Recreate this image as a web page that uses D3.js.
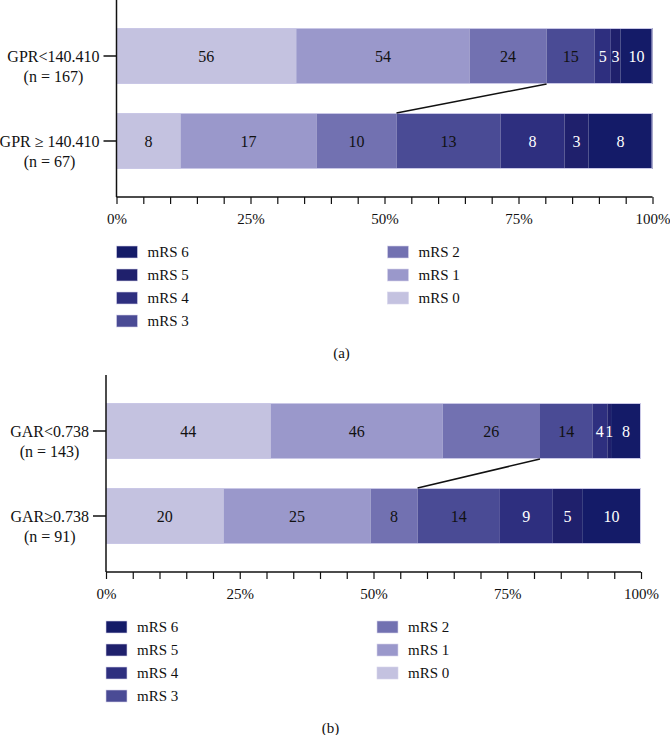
<!DOCTYPE html>
<html>
<head>
<meta charset="utf-8">
<script src="https://cdn.jsdelivr.net/npm/d3@7"></script>
<style>
  html, body { margin: 0; padding: 0; background: #fff; }
  svg { display: block; }
  text { font-family: "Liberation Serif", "DejaVu Serif", serif; fill: #111; }
</style>
</head>
<body>
<svg id="chart" width="670" height="735"></svg>
<script>
// ---- data ----
const stages = ["mRS 0", "mRS 1", "mRS 2", "mRS 3", "mRS 4", "mRS 5", "mRS 6"];
const stageColors = ["#c4c2e0", "#9a98cb", "#7271b1", "#4a4b95", "#2e2f7f", "#1f206c", "#141b68"];
const stageTextColors = ["#111", "#111", "#111", "#111", "#fff", "#fff", "#fff"];

const gprCategories = ["GPR<140.410", "GPR \u2265 140.410"];
const gprN = ["(n = 167)", "(n = 67)"];
const gprCounts = [
  [56, 54, 24, 15, 5, 3, 10],
  [8, 17, 10, 13, 8, 3, 8]
];

const garCategories = ["GAR<0.738", "GAR\u22650.738"];
const garN = ["(n = 143)", "(n = 91)"];
const garCounts = [
  [44, 46, 26, 14, 4, 1, 8],
  [20, 25, 8, 14, 9, 5, 10]
];

const majorTicks = [0, 0.25, 0.5, 0.75, 1];
const tickLabels = ["0%", "25%", "50%", "75%", "100%"];
const legendCol1 = ["mRS 6", "mRS 5", "mRS 4", "mRS 3"];
const legendCol2 = ["mRS 2", "mRS 1", "mRS 0"];

const svg = d3.select("#chart");

function panel(opts) {
  const { dx, dy, left, right, cats, ns, counts, caption } = opts;
  const g = svg.append("g").attr("transform", `translate(${dx},${dy})`);
  const axisY = 197;
  const x = d3.scaleLinear().domain([0, 1]).range([left, right]);
  const y = d3.scalePoint().domain(cats).range([56, 141]);
  const barH = 56;
  const color = d3.scaleOrdinal().domain(stages).range(stageColors);

  const rows = counts.map((c, i) => {
    const total = d3.sum(c);
    let cum = 0;
    return c.map((v, j) => {
      const seg = { cat: cats[i], stage: stages[j], idx: j, v, x0: cum / total, x1: (cum + v) / total };
      cum += v;
      return seg;
    });
  });

  rows.forEach(row => {
    const rg = g.append("g");
    rg.selectAll("rect").data(row).join("rect")
      .attr("x", d => x(d.x0))
      .attr("y", d => y(d.cat) - barH / 2)
      .attr("width", d => x(d.x1) - x(d.x0))
      .attr("height", barH)
      .attr("fill", d => color(d.stage));
    rg.append("rect")
      .attr("x", x(0) + 0.5).attr("y", y(row[0].cat) - barH / 2 + 0.5)
      .attr("width", x(1) - x(0) - 1).attr("height", barH - 1)
      .attr("fill", "none").attr("stroke", "#c9c7e6").attr("stroke-width", 1);
    rg.selectAll("text").data(row).join("text")
      .attr("x", d => (x(d.x0) + x(d.x1)) / 2)
      .attr("y", d => y(d.cat) + 5.5)
      .attr("text-anchor", "middle")
      .attr("font-size", 16)
      .style("fill", d => stageTextColors[d.idx])
      .text(d => d.v);
  });

  const b0 = rows[0][3].x0, b1 = rows[1][3].x0;
  g.append("line")
    .attr("x1", x(b0)).attr("y1", y(cats[0]) + barH / 2)
    .attr("x2", x(b1)).attr("y2", y(cats[1]) - barH / 2)
    .attr("stroke", "#111").attr("stroke-width", 1.5);

  // y axis
  g.append("line").attr("x1", left).attr("x2", left).attr("y1", 0).attr("y2", axisY)
    .attr("stroke", "#111").attr("stroke-width", 1.5);
  cats.forEach((c, i) => {
    g.append("line").attr("x1", left - 13).attr("x2", left).attr("y1", y(c)).attr("y2", y(c))
      .attr("stroke", "#111").attr("stroke-width", 1.5);
    const t = g.append("text").attr("x", left - 17).attr("y", y(c) + 5.5).attr("text-anchor", "end")
      .attr("font-size", 16).text(c);
    const w = t.node().getComputedTextLength();
    g.append("text").attr("x", left - 17 - w / 2).attr("y", y(c) + 26)
      .attr("text-anchor", "middle").attr("font-size", 16).text(ns[i]);
  });

  // x axis
  const xAxis = d3.axisBottom(x)
    .tickValues(d3.range(0, 1.0001, 0.05))
    .tickSize(7)
    .tickFormat(d => {
      const k = majorTicks.findIndex(t => Math.abs(t - d) < 1e-6);
      return k >= 0 ? tickLabels[k] : "";
    });
  const ax = g.append("g").attr("transform", `translate(0,${axisY})`).call(xAxis);
  ax.select(".domain").attr("stroke", "#111").attr("stroke-width", 1.5).attr("d", `M${left},0H${right}`);
  ax.selectAll(".tick line").attr("stroke", "#111").attr("stroke-width", 1.2);
  ax.selectAll(".tick text").attr("font-family", "Liberation Serif, DejaVu Serif, serif")
    .attr("font-size", 15).attr("fill", "#111").attr("y", 16);

  // legend
  const lg = g.append("g");
  const rowY = i => 252 + i * 23;
  [legendCol1, legendCol2].forEach((col, ci) => {
    const sx = ci === 0 ? left : left + 271;
    col.forEach((name, i) => {
      lg.append("rect").attr("x", sx).attr("y", rowY(i) - 6).attr("width", 21).attr("height", 12)
        .attr("fill", color(name)).attr("stroke", "#d6d4ec").attr("stroke-width", 0.6);
      lg.append("text").attr("x", sx + 31).attr("y", rowY(i) + 5).attr("font-size", 15).text(name);
    });
  });

  g.append("text").attr("x", (left + right) / 2 - 43).attr("y", 358).attr("text-anchor", "middle")
    .attr("font-size", 15).text(caption);
}

panel({ dx: 0, dy: 0, left: 116.5, right: 652.5, cats: gprCategories, ns: gprN, counts: gprCounts, caption: "(a)" });
panel({ dx: 0, dy: 375, left: 106, right: 641, cats: garCategories, ns: garN, counts: garCounts, caption: "(b)" });
</script>
</body>
</html>
